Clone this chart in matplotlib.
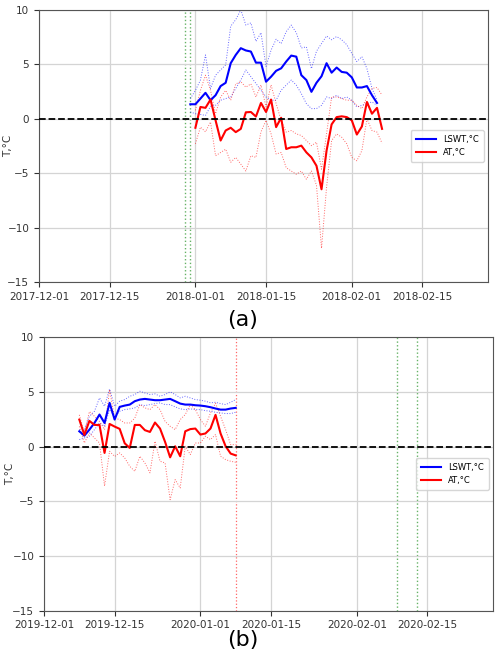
import matplotlib
matplotlib.use('Agg')
import matplotlib.pyplot as plt
import matplotlib.dates as mdates
import numpy as np

# ---- panel (a): winter 2017/18 ----
a_lswt_dates = np.arange('2017-12-31', '2018-02-07', dtype='datetime64[D]')
a_lswt_mean = [1.33, 1.33, 1.85, 2.38, 1.7, 2.16, 3.0, 3.3, 5.1, 5.86, 6.48, 6.27, 6.17,
               5.15, 5.15, 3.4, 3.86, 4.4, 4.63, 5.25, 5.8, 5.7, 4.0, 3.55, 2.47, 3.3,
               3.9, 5.1, 4.23, 4.7, 4.3, 4.23, 3.8, 2.87, 2.87, 3.0, 2.16, 1.45]
a_lswt_hi = [1.85, 2.6, 3.55, 5.86, 2.78, 4.0, 4.48, 4.94, 8.5, 9.1, 10.0, 8.6, 8.8,
             7.1, 7.9, 4.8, 6.3, 7.3, 6.9, 8.0, 8.6, 7.9, 6.5, 6.6, 4.6, 6.2, 6.9,
             7.6, 7.25, 7.55, 7.25, 6.8, 6.0, 5.25, 5.7, 4.6, 2.8, 1.7]
a_lswt_lo = [0.62, 0.46, 0.4, 0.3, 1.14, 1.23, 1.7, 1.85, 2.0, 2.78, 3.55, 4.48, 3.86,
             3.24, 2.62, 2.0, 1.7, 1.7, 2.62, 3.09, 3.55, 3.09, 2.3, 1.39, 0.93, 0.93,
             1.23, 2.0, 1.85, 2.16, 1.85, 2.0, 1.7, 1.08, 1.23, 1.39, 1.54, 1.23]
a_at_dates = np.arange('2018-01-01', '2018-02-08', dtype='datetime64[D]')
a_at_mean = [-0.83, 1.08, 1.0, 1.76, -0.15, -2.0, -1.08, -0.83, -1.23, -0.93, 0.59, 0.62,
             0.2, 1.45, 0.62, 1.76, -0.77, 0.09, -2.78, -2.62, -2.62, -2.47, -3.09, -3.55,
             -4.32, -6.48, -2.93, -0.52, 0.15, 0.22, 0.15, -0.15, -1.45, -0.71, 1.54, 0.46,
             1.0, -0.93]
a_at_hi = [0.77, 2.6, 4.0, 2.6, 0.46, 2.0, 2.6, 1.7, 3.2, 3.4, 2.9, 3.2, 2.0, 3.1, 1.08,
           3.1, 1.4, -0.15, -1.23, -1.08, -1.39, -1.54, -2.0, -2.47, -2.16, -4.63, -1.39,
           2.0, 2.0, 1.85, 1.7, 1.7, 1.23, 0.93, 2.0, 2.78, 2.87, 2.16]
a_at_lo = [-2.3, -0.77, -1.2, -0.3, -3.4, -3.1, -2.8, -4.0, -3.55, -4.17, -4.8, -3.4,
           -3.55, -1.2, -0.15, -1.39, -3.24, -3.1, -4.5, -4.8, -5.1, -4.8, -5.56, -4.8,
           -6.1, -11.9, -6.3, -2.0, -1.39, -1.7, -2.3, -3.55, -3.86, -2.93, 0.0, -1.08,
           -1.23, -2.25]
a_green = ['2017-12-30', '2017-12-31']
a_red = []
a_xlim = ('2017-12-01', '2018-02-28')

# ---- panel (b): winter 2019/20 ----
b_dates = np.arange('2019-12-08', '2020-01-09', dtype='datetime64[D]')
b_lswt_mean = [1.4, 1.0, 1.55, 2.16, 2.93, 2.16, 4.0, 2.47, 3.63, 3.75, 3.84, 4.15, 4.3,
               4.36, 4.3, 4.24, 4.24, 4.3, 4.36, 4.15, 3.93, 3.84, 3.84, 3.78, 3.75, 3.69,
               3.6, 3.48, 3.38, 3.38, 3.48, 3.54]
b_lswt_hi = [1.55, 1.55, 2.77, 3.23, 4.45, 3.69, 5.27, 3.69, 4.15, 4.3, 4.6, 4.76, 5.06,
             4.9, 4.76, 4.82, 4.6, 4.76, 5.0, 4.76, 4.45, 4.6, 4.45, 4.3, 4.24, 4.15, 4.0,
             4.05, 3.93, 3.84, 4.05, 4.3]
b_lswt_lo = [0.64, 0.79, 0.95, 1.55, 2.16, 1.86, 3.38, 2.71, 3.23, 3.38, 3.45, 3.54, 3.84,
             3.75, 3.84, 3.93, 4.0, 3.84, 3.84, 3.63, 3.45, 3.38, 3.45, 3.38, 3.38, 3.29,
             3.23, 3.14, 3.08, 3.02, 3.02, 3.14]
b_at_mean = [2.47, 1.07, 2.35, 1.98, 1.98, -0.58, 2.07, 1.83, 1.62, 0.3, -0.12, 1.98, 1.98,
             1.5, 1.34, 2.2, 1.65, 0.43, -0.98, 0.03, -0.88, 1.4, 1.6, 1.65, 1.1, 1.2, 1.65,
             2.9, 1.2, 0.03, -0.64, -0.8]
b_at_hi = [2.9, 1.25, 3.2, 2.77, 2.3, 1.55, 5.2, 2.6, 2.47, 2.16, 2.16, 2.6, 3.84, 3.54,
           3.38, 3.84, 3.38, 2.3, 1.86, 1.55, 2.47, 2.93, 3.84, 3.38, 2.47, 1.86, 3.08,
           3.96, 2.77, 1.55, 0.18, 0.18]
b_at_lo = [1.85, 0.33, 1.25, 0.79, 0.33, -3.6, -0.43, -0.9, -0.58, -1.04, -1.8, -2.26,
           -0.88, -1.49, -2.4, 0.49, -1.34, -1.49, -4.85, -3.02, -3.78, 0.03, -0.73, 0.33,
           0.33, 0.95, 0.64, 1.1, -0.88, -1.19, -1.34, -1.43]
b_green = ['2020-02-09', '2020-02-13']
b_red = ['2020-01-08']
b_xlim = ('2019-12-01', '2020-02-28')

fig = plt.figure(figsize=(5, 6.56), dpi=100)
fig.patch.set_facecolor('white')
ax_a = fig.add_axes([0.078, 0.570, 0.898, 0.415])
ax_b = fig.add_axes([0.088, 0.069, 0.898, 0.417])


def draw(ax, ld, lm, lh, ll, ad, am, ah, al, greens, reds, xlim, label_x):
    ax.grid(True, color='#d4d4d4', lw=0.9, zorder=0)
    ax.plot(ld, lh, color='blue', lw=0.7, ls=':', alpha=0.6, zorder=2)
    ax.plot(ld, ll, color='blue', lw=0.7, ls=':', alpha=0.6, zorder=2)
    ax.plot(ad, ah, color='red', lw=0.7, ls=':', alpha=0.6, zorder=2)
    ax.plot(ad, al, color='red', lw=0.7, ls=':', alpha=0.6, zorder=2)
    ax.plot(ld, lm, color='blue', lw=1.5, label='LSWT,°C', zorder=3)
    ax.plot(ad, am, color='red', lw=1.5, label='AT,°C', zorder=3)
    for d in greens:
        ax.axvline(np.datetime64(d), color='green', ls=':', lw=1.0, alpha=0.6, zorder=1)
    for d in reds:
        ax.axvline(np.datetime64(d), color='red', ls=':', lw=0.9, alpha=0.6, zorder=1)
    ax.axhline(0, color='black', ls='--', lw=1.3, zorder=4)
    ax.set_ylim(-15, 10)
    ax.set_xlim(np.datetime64(xlim[0]), np.datetime64(xlim[1]))
    ax.set_yticks([-15, -10, -5, 0, 5, 10])
    ax.xaxis.set_major_locator(mdates.DayLocator(bymonthday=[1, 15]))
    ax.xaxis.set_major_formatter(mdates.DateFormatter('%Y-%m-%d'))
    ax.tick_params(labelsize=7.5, colors='#333333', length=3.5)
    for s in ax.spines.values():
        s.set_color('#555555')
    ax.set_ylabel('T,°C', fontsize=7.5, color='#333333')
    ax.yaxis.set_label_coords(label_x, 0.5)
    leg = ax.legend(loc='center right', fontsize=6, frameon=True, handlelength=2.5,
                    borderpad=0.6)
    leg.get_frame().set_edgecolor('#cccccc')


draw(ax_a, a_lswt_dates, a_lswt_mean, a_lswt_hi, a_lswt_lo,
     a_at_dates, a_at_mean, a_at_hi, a_at_lo, a_green, a_red, a_xlim, -0.058)
draw(ax_b, b_dates, b_lswt_mean, b_lswt_hi, b_lswt_lo,
     b_dates, b_at_mean, b_at_hi, b_at_lo, b_green, b_red, b_xlim, -0.065)

fig.text(0.486, 1 - 320 / 656, '(a)', fontsize=16, ha='center', va='center')
fig.text(0.486, 1 - 640 / 656, '(b)', fontsize=16, ha='center', va='center')

plt.savefig('out.png', dpi=100, facecolor='white')
plt.close()
